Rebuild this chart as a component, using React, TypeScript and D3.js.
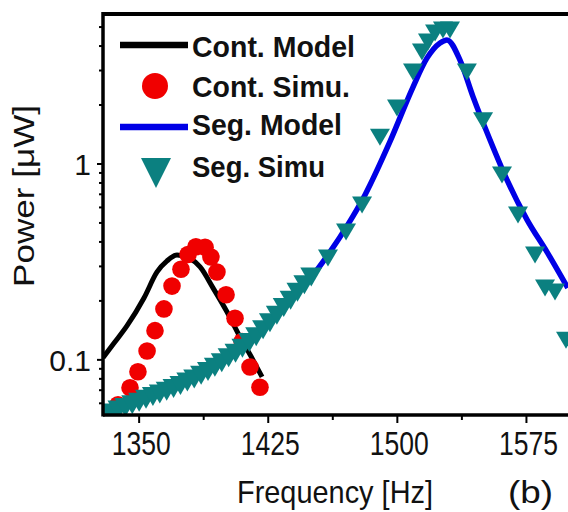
import React from 'react';
import * as d3 from 'd3';

// Cont. Model (black line)
const contModelFreq = [1329, 1336, 1342.9, 1352.8, 1360.4, 1366.2, 1372, 1379, 1385.4, 1392.9, 1401, 1408.6, 1416.1, 1421.4];
const contModelPower = [0.1026, 0.1236, 0.149, 0.207, 0.281, 0.32, 0.343, 0.331, 0.298, 0.233, 0.176, 0.131, 0.1, 0.0819];

// Cont. Simu. (red circles)
const contSimuFreq = [1337.7, 1344.7, 1349.3, 1354.6, 1359.2, 1364.4, 1369.1, 1374.3, 1378.4, 1383, 1388.3, 1391.7, 1395.2, 1400.5, 1405.7, 1409.8, 1414.4, 1420.2];
const contSimuPower = [0.059, 0.072, 0.087, 0.111, 0.141, 0.182, 0.238, 0.29, 0.345, 0.378, 0.376, 0.335, 0.281, 0.215, 0.163, 0.124, 0.092, 0.0725];

// Seg. Model (blue line)
const segModelFreq = [1329, 1350, 1370, 1390, 1410, 1430, 1445, 1453.3, 1460.9, 1470.8, 1481.2, 1495.7, 1509.1, 1517.2, 1524.8, 1528.8, 1536.4, 1544, 1553.8, 1563.7, 1575.3, 1586.9, 1599];
const segModelPower = [0.051, 0.061, 0.071, 0.087, 0.114, 0.169, 0.236, 0.288, 0.356, 0.483, 0.695, 1.3, 2.47, 3.47, 4.15, 4.3, 3.39, 2.2, 1.33, 0.83, 0.52, 0.356, 0.233];

// Seg. Simu (teal triangles)
const segSimuFreq = [
  1330, 1334, 1338, 1342, 1346, 1350, 1354, 1358, 1362, 1366, 1370, 1374, 1378, 1382, 1386, 1390,
  1394, 1398, 1402, 1406, 1410, 1414, 1418, 1422, 1426, 1430, 1434, 1438, 1442, 1446, 1450,
  1459.7, 1470.2, 1479.5, 1489.9, 1499.8, 1509.1, 1514.3, 1517.8, 1521.9, 1526.5, 1530.6, 1540.4,
  1549.8, 1560.8, 1570.1, 1580, 1585.8, 1591.6, 1598,
];
const segSimuPower = [
  0.0511, 0.0535, 0.0554, 0.0572, 0.059, 0.0607, 0.063, 0.065, 0.067, 0.0692, 0.0714, 0.074, 0.077, 0.0799, 0.0834, 0.0873,
  0.0917, 0.0967, 0.1024, 0.1082, 0.1145, 0.1225, 0.1314, 0.1424, 0.1546, 0.1688, 0.1849, 0.2014, 0.2215, 0.2418, 0.265,
  0.331, 0.45, 0.618, 1.37, 1.93, 2.95, 3.73, 4.19, 4.66, 4.83, 4.83, 2.95,
  1.66, 0.879, 0.549, 0.343, 0.233, 0.222, 0.126,
];

const xMajorTicks = [1350, 1425, 1500, 1575];
const xMinorTicks = [1387.5, 1462.5, 1537.5];
const yTickLabels = ['0.1', '1'];
const legendLabels = ['Cont. Model', 'Cont. Simu.', 'Seg. Model', 'Seg. Simu'];

const W = 568;
const H = 512;
const left = 103;
const top = 14;
const bottom = 415;
const font = '"Liberation Sans", Arial, sans-serif';

export default function App() {
  const x = d3.scaleLinear().domain([1329, 1600]).range([left, left + 271 * 1.7213]);
  const y = d3.scaleLog().domain([0.0523, 5.83]).range([bottom, top]);

  const contModel = contModelFreq.map((f, i) => [f, contModelPower[i]]);
  const contSimu = contSimuFreq.map((f, i) => [f, contSimuPower[i]]);
  const segModel = segModelFreq.map((f, i) => [f, segModelPower[i]]);
  const segSimu = segSimuFreq.map((f, i) => [f, segSimuPower[i]]);

  const line = d3
    .line<number[]>()
    .x((d) => x(d[0]))
    .y((d) => y(d[1]))
    .curve(d3.curveMonotoneX);

  const tri = (cx: number, cy: number, w: number, h: number) =>
    `M${cx - w / 2},${cy - h / 2}L${cx + w / 2},${cy - h / 2}L${cx},${cy + h / 2}Z`;

  const yTicks = y.ticks();
  const teal = '#0b8080';
  const red = '#f00000';
  const blue = '#0000e6';

  return (
    <svg width={W} height={H} style={{ position: 'absolute', left: 0, top: 0, background: '#fff' }}>
      <defs>
        <clipPath id="plot">
          <rect x={left} y={top} width={W - left + 10} height={bottom - top} />
        </clipPath>
      </defs>

      <g clipPath="url(#plot)">
        <path d={line(contModel) || ''} fill="none" stroke="#000" strokeWidth={5} />
        {contSimu.map((d, i) => (
          <circle key={i} cx={x(d[0])} cy={y(d[1])} r={8.8} fill={red} />
        ))}
        <path d={line(segModel) || ''} fill="none" stroke={blue} strokeWidth={5.5} />
        {segSimu.map((d, i) => (
          <path key={i} d={tri(x(d[0]), y(d[1]), d[0] < 1455 ? 22 : 20, d[0] < 1455 ? 19 : 17)} fill={teal} />
        ))}
      </g>

      {/* frame */}
      <line x1={left} x2={W} y1={top} y2={top} stroke="#000" strokeWidth={4} />
      <line x1={left} x2={left} y1={top - 2} y2={bottom + 1.5} stroke="#000" strokeWidth={3.5} />
      <line x1={left} x2={W} y1={bottom} y2={bottom} stroke="#000" strokeWidth={3.5} />

      {/* x ticks */}
      {xMajorTicks.map((t) => (
        <g key={t}>
          <line x1={x(t)} x2={x(t)} y1={bottom} y2={bottom + 8} stroke="#000" strokeWidth={2} />
          <text
            transform={`translate(${x(t) + 2},455) scale(1,1.2)`}
            textAnchor="middle"
            fontFamily={font}
            fontSize={28}
            textLength={59}
            lengthAdjust="spacingAndGlyphs"
            fill="#111"
          >
            {t}
          </text>
        </g>
      ))}
      {xMinorTicks.map((t) => (
        <line key={t} x1={x(t)} x2={x(t)} y1={bottom} y2={bottom + 5} stroke="#000" strokeWidth={2} />
      ))}

      {/* y ticks */}
      {yTicks.map((t, i) => {
        const major = Math.abs(Math.log10(t) - Math.round(Math.log10(t))) < 1e-6;
        return (
          <line key={i} x1={left - (major ? 6 : 4)} x2={left} y1={y(t)} y2={y(t)} stroke="#000" strokeWidth={2} />
        );
      })}
      {yTickLabels.map((l) => (
        <text key={l} x={91} y={y(+l) + 11} textAnchor="end" fontFamily={font} fontSize={30} fill="#111">
          {l}
        </text>
      ))}

      {/* axis titles */}
      <text x={237} y={503} fontFamily={font} fontSize={32} textLength={196} lengthAdjust="spacingAndGlyphs" fill="#111">
        Frequency [Hz]
      </text>
      <text x={508} y={503} fontFamily={font} fontSize={32} textLength={45} lengthAdjust="spacingAndGlyphs" fill="#111">
        (b)
      </text>
      <text
        transform="translate(34,287) rotate(-90)"
        fontFamily={font}
        fontSize={29}
        textLength={182}
        lengthAdjust="spacingAndGlyphs"
        fill="#111"
      >
        Power [μW]
      </text>

      {/* legend */}
      <line x1={120} x2={188} y1={45} y2={45} stroke="#000" strokeWidth={6.5} />
      <circle cx={155} cy={86} r={13} fill={red} />
      <line x1={120} x2={188} y1={127} y2={127} stroke={blue} strokeWidth={6.5} />
      <path d={tri(156, 173, 30, 30)} fill={teal} />
      {legendLabels.map((l, i) => (
        <text
          key={l}
          x={192}
          y={[57, 97, 135, 177][i]}
          fontFamily={font}
          fontWeight="bold"
          fontSize={30}
          textLength={[163, 158, 150, 133][i]}
          lengthAdjust="spacingAndGlyphs"
          fill="#111"
        >
          {l}
        </text>
      ))}
    </svg>
  );
}
